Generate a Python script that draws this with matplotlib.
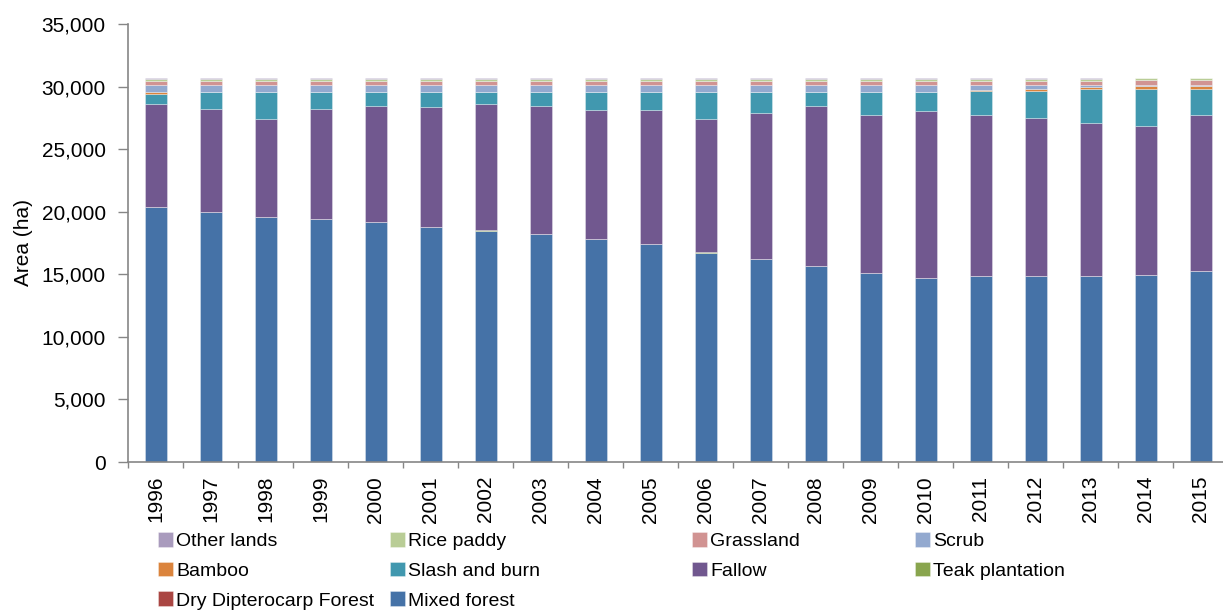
import matplotlib
matplotlib.use("Agg")
import matplotlib.pyplot as plt
from matplotlib.ticker import FuncFormatter, FixedLocator
import numpy as np

plt.rcParams['font.family'] = ['Liberation Sans', 'DejaVu Sans']

years = [str(y) for y in range(1996, 2016)]

# Land cover area per year (ha), listed bottom to top of each stacked bar
mixed_forest = [20350, 19950, 19550, 19420, 19150, 18750, 18480, 18190, 17790, 17390,
                16720, 16190, 15660, 15070, 14670, 14830, 14830, 14830, 14940, 15230]
dry_dipterocarp = [15, 15, 15, 15, 15, 15, 15, 15, 15, 15,
                   15, 15, 15, 15, 15, 15, 15, 15, 15, 15]
teak_plantation = [10, 10, 10, 10, 10, 10, 10, 10, 10, 10,
                   10, 10, 10, 10, 10, 10, 10, 10, 10, 10]
fallow = [8245, 8245, 7815, 8775, 9305, 9575, 10115, 10265, 10295, 10695,
          10645, 11705, 12795, 12665, 13385, 12905, 12665, 12265, 11895, 12505]
slash_and_burn = [800, 1330, 2160, 1330, 1070, 1200, 930, 1070, 1440, 1440,
                  2160, 1630, 1070, 1790, 1470, 1920, 2130, 2690, 2950, 2050]
bamboo = [130, 20, 20, 20, 20, 20, 20, 20, 20, 20,
          20, 20, 20, 20, 20, 30, 160, 160, 270, 270]
scrub = [560, 540, 540, 540, 540, 540, 540, 540, 540, 540,
         540, 540, 540, 540, 540, 400, 300, 140, 30, 30]
grassland = [340, 340, 340, 340, 340, 340, 340, 340, 340, 340,
             340, 340, 340, 340, 340, 340, 340, 340, 380, 380]
rice_paddy = [190, 190, 190, 190, 190, 190, 190, 190, 190, 190,
              190, 190, 190, 190, 190, 190, 190, 190, 190, 190]
other_lands = [30, 30, 30, 30, 30, 30, 30, 30, 30, 30,
               30, 30, 30, 30, 30, 30, 30, 30, 30, 30]

series = [
    ("Mixed forest", mixed_forest, "#4572A7"),
    ("Dry Dipterocarp Forest", dry_dipterocarp, "#AA4643"),
    ("Teak plantation", teak_plantation, "#89A54E"),
    ("Fallow", fallow, "#71588F"),
    ("Slash and burn", slash_and_burn, "#4198AF"),
    ("Bamboo", bamboo, "#DB843D"),
    ("Scrub", scrub, "#93A9CF"),
    ("Grassland", grassland, "#D19392"),
    ("Rice paddy", rice_paddy, "#B9CD96"),
    ("Other lands", other_lands, "#A99BBD"),
]

W, H = 1223, 611
fig = plt.figure(figsize=(W / 100, H / 100), dpi=100)
ax_left, ax_right, ax_top, ax_bottom = 128, 1228, 24, 462
ax = fig.add_axes([ax_left / W, 1 - ax_bottom / H, (ax_right - ax_left) / W, (ax_bottom - ax_top) / H])

x = np.arange(len(years))
base = np.zeros(len(years))
handles = {}
for name, vals, color in series:
    v = np.array(vals, dtype=float)
    bars = ax.bar(x, v, width=0.4, bottom=base, color=color,
                  edgecolor=(1, 1, 1, 0.45), linewidth=0.5, label=name)
    handles[name] = bars
    base += v

grey = "#868686"
ax.set_xlim(-0.5, len(years) - 0.5)
ax.set_ylim(0, 35000)
ax.set_yticks(np.arange(0, 35001, 5000))
ax.yaxis.set_major_formatter(FuncFormatter(lambda v, p: f"{int(v):,}"))
ax.tick_params(axis='y', direction='out', length=7, width=1, color=grey,
               labelsize=15, pad=9)

ax.set_xticks(x)
ax.set_xticklabels(years, rotation=90, fontsize=15)
ax.tick_params(axis='x', which='major', length=0, pad=10)
ax.xaxis.set_minor_locator(FixedLocator(np.arange(-0.5, len(years), 1.0)))
ax.tick_params(axis='x', which='minor', direction='out', length=4.5, width=1, color=grey)

for s in ('top', 'right'):
    ax.spines[s].set_visible(False)
for s in ('left', 'bottom'):
    ax.spines[s].set_color(grey)
    ax.spines[s].set_linewidth(1.2)

ax.set_ylabel("Area (ha)", fontsize=15)
ax.yaxis.set_label_coords((33 - ax_left) / (ax_right - ax_left), 0.5)

# Legend laid out as four columns of entries
columns = [
    (158, ["Other lands", "Bamboo", "Dry Dipterocarp Forest"]),
    (390, ["Rice paddy", "Slash and burn", "Mixed forest"]),
    (692, ["Grassland", "Fallow"]),
    (915, ["Scrub", "Teak plantation"]),
]
for xpx, names in columns:
    fig.legend([handles[n] for n in names], names, loc='upper left',
               bbox_to_anchor=(xpx / W, 1 - 532 / H), frameon=False,
               fontsize=14, borderpad=0, borderaxespad=0,
               handlelength=0.78, handleheight=0.78, handletextpad=0.15,
               labelspacing=0.6)

fig.savefig("out.png", dpi=100)
